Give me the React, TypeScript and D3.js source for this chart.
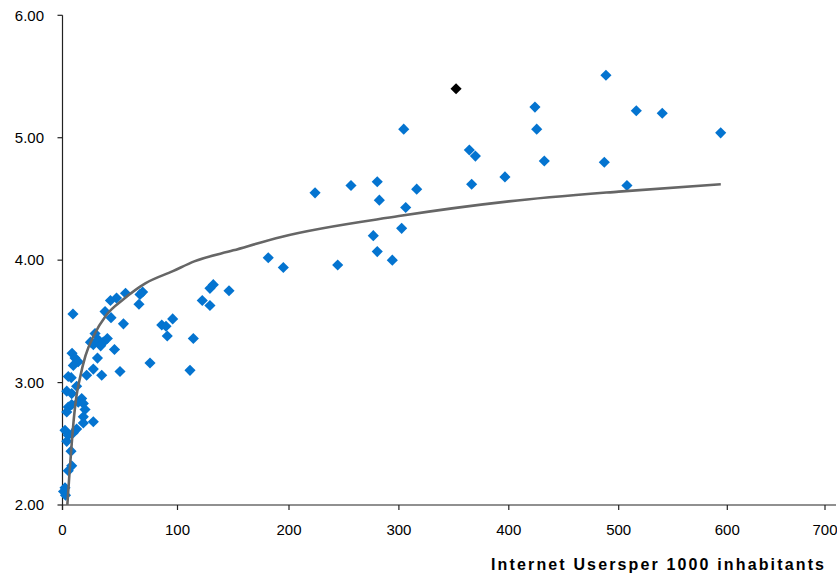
import React from "react";
import * as d3 from "d3";

// Internet users per 1000 inhabitants (x) vs score (y)
const POINTS_X = [
  181.4, 194.9, 223.7, 244.3, 256.4, 280.3, 282.2, 276.7, 280.3, 294.0,
  302.5, 306.2, 316.2, 304.4, 364.1, 369.6, 366.2, 396.5, 423.8, 425.4,
  432.3, 488.4, 486.9, 507.6, 516.2, 540.1, 593.9,
  132.1, 129.1, 146.2, 122.2, 129.1, 95.8, 86.3, 90.0, 91.1, 114.2,
  76.1, 111.2, 50.0, 53.0, 45.2, 69.7, 67.4, 66.5, 54.8, 47.0,
  41.7, 37.0, 42.2, 9.1, 28.3, 24.3, 26.8, 31.1, 35.5, 39.0,
  33.2, 30.4, 21.0, 26.8, 34.1, 8.3, 10.9, 13.7, 9.4, 5.0,
  7.6, 3.7, 8.0, 12.3, 16.7, 13.7, 18.1, 5.0, 3.7, 8.0,
  19.6, 18.1, 26.8, 18.1, 2.2, 5.0, 3.7, 9.4, 12.3, 7.4,
  8.0, 5.0, 2.2, 0.9, 2.6,
];
const POINTS_Y = [
  4.02, 3.94, 4.55, 3.96, 4.61, 4.64, 4.49, 4.2, 4.07, 4.0,
  4.26, 4.43, 4.58, 5.07, 4.9, 4.85, 4.62, 4.68, 5.25, 5.07,
  4.81, 5.51, 4.8, 4.61, 5.22, 5.2, 5.04,
  3.8, 3.77, 3.75, 3.67, 3.63, 3.52, 3.47, 3.46, 3.38, 3.36,
  3.16, 3.1, 3.09, 3.48, 3.27, 3.74, 3.72, 3.64, 3.73, 3.69,
  3.67, 3.58, 3.53, 3.56, 3.4, 3.33, 3.31, 3.35, 3.33, 3.36,
  3.3, 3.2, 3.06, 3.11, 3.06, 3.24, 3.2, 3.17, 3.14, 3.05,
  3.04, 2.93, 2.91, 2.97, 2.87, 2.84, 2.83, 2.8, 2.76, 2.82,
  2.78, 2.72, 2.68, 2.67, 2.61, 2.57, 2.52, 2.59, 2.62, 2.44,
  2.32, 2.28, 2.14, 2.11, 2.08,
];
// highlighted point
const HIGHLIGHT_X = [352];
const HIGHLIGHT_Y = [5.4];

// logarithmic trend line
const TREND_X = [4.2, 6, 8, 10, 12, 15, 20, 27, 38, 53, 72, 96, 115, 150, 193, 300, 400, 500, 594];
const TREND_Y = [2.0, 2.25, 2.5, 2.72, 2.88, 3.03, 3.22, 3.38, 3.55, 3.68, 3.81, 3.91, 3.99, 4.08, 4.19, 4.36, 4.48, 4.56, 4.62];

const X_TICKS = [0, 100, 200, 300, 400, 500, 600, 700];
const Y_TICKS = [2, 3, 4, 5, 6];
const X_TITLE = "Internet Usersper 1000 inhabitants";

export default function App() {
  const W = 837;
  const H = 578;
  const x = d3
    .scaleLinear()
    .domain(X_TICKS)
    .range([62.5, 177.5, 289, 398.9, 508.8, 618.7, 727.3, 825]);
  const y = d3.scaleLinear().domain([2, 6]).range([505, 15.3]);
  const left = x(0);
  const bottom = y(2);

  const diamond = d3.symbol(d3.symbolSquare, 62)() as string;
  const pts = POINTS_X.map((v, i) => [v, POINTS_Y[i]] as [number, number]);
  const hl = HIGHLIGHT_X.map((v, i) => [v, HIGHLIGHT_Y[i]] as [number, number]);
  const trend = TREND_X.map((v, i) => [v, TREND_Y[i]] as [number, number]);
  const line = d3
    .line<[number, number]>()
    .x((d) => x(d[0]))
    .y((d) => y(d[1]))
    .curve(d3.curveMonotoneX);

  const font = "'Liberation Sans', Arial, sans-serif";

  return (
    <svg
      width={W}
      height={H}
      style={{ position: "absolute", left: 0, top: 0, background: "#fff" }}
      fontFamily={font}
    >
      <defs>
        <clipPath id="plot">
          <rect x={left} y={0} width={W - left} height={bottom} />
        </clipPath>
      </defs>
      {/* axes */}
      <line x1={left} x2={left} y1={y(6)} y2={bottom + 5} stroke="#222" strokeWidth={1.2} />
      <line x1={left} x2={836} y1={bottom} y2={bottom} stroke="#222" strokeWidth={1.2} />
      {Y_TICKS.map((t) => (
        <g key={"y" + t}>
          <line x1={left - 5} x2={left} y1={y(t)} y2={y(t)} stroke="#222" strokeWidth={1.2} />
          <text x={44} y={y(t) + 5.3} textAnchor="end" fontSize={15} fill="#000">
            {t.toFixed(2)}
          </text>
        </g>
      ))}
      {X_TICKS.map((t) => (
        <g key={"x" + t}>
          <line x1={x(t)} x2={x(t)} y1={bottom} y2={bottom + 5} stroke="#222" strokeWidth={1.2} />
          <text x={x(t)} y={535} textAnchor="middle" fontSize={15} fill="#000">
            {t}
          </text>
        </g>
      ))}
      <text
        x={491}
        y={570}
        fontSize={16}
        fontWeight="bold"
        fill="#000"
        textLength={333}
        lengthAdjust="spacing"
      >
        {X_TITLE}
      </text>
      {/* points */}
      <g>
        {pts.map((d, i) => (
          <path
            key={i}
            d={diamond}
            transform={`translate(${x(d[0])},${y(d[1])}) rotate(45)`}
            fill="#0474D0"
          />
        ))}
        {hl.map((d, i) => (
          <path
            key={"h" + i}
            d={diamond}
            transform={`translate(${x(d[0])},${y(d[1])}) rotate(45)`}
            fill="#000"
          />
        ))}
      </g>
      <path
        d={line(trend) as string}
        fill="none"
        stroke="#666"
        strokeWidth={2.6}
        clipPath="url(#plot)"
      />
    </svg>
  );
}
